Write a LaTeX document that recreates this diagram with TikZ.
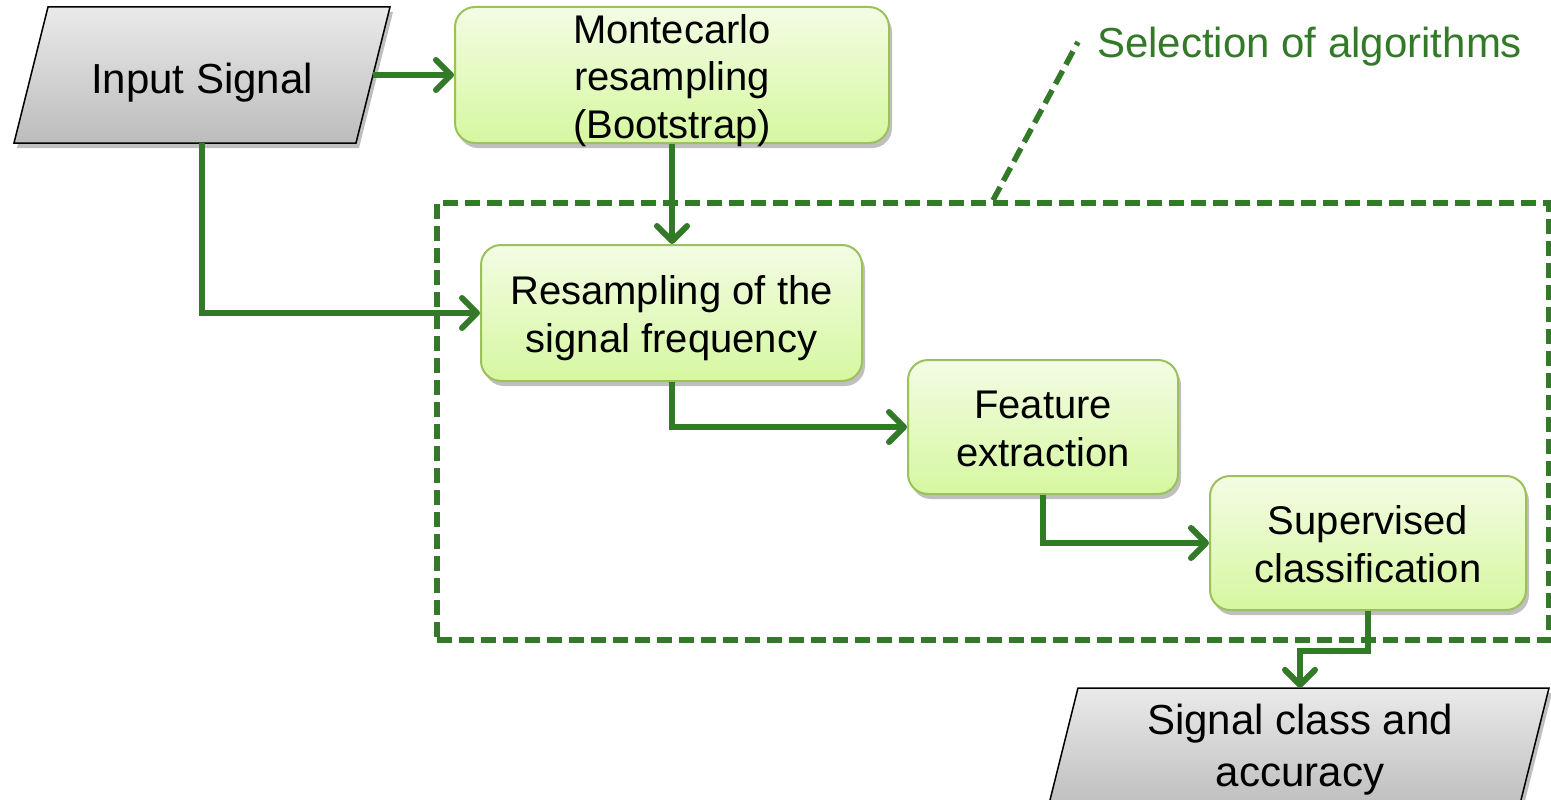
\documentclass[tikz,border=0pt]{standalone}
\usepackage{fontspec}
\setmainfont{Liberation Sans}
\usetikzlibrary{arrows.meta,shadows,calc}
\definecolor{conn}{RGB}{50,122,40}
\definecolor{boxtop}{RGB}{243,252,228}
\definecolor{boxbot}{RGB}{214,247,160}
\definecolor{boxline}{RGB}{155,192,92}
\definecolor{greytop}{RGB}{234,234,234}
\definecolor{greybot}{RGB}{188,188,188}
\begin{document}
\begin{tikzpicture}[x=1pt,y=-1pt,
  shad/.style={drop shadow={shadow xshift=3pt,shadow yshift=-5pt,opacity=0.25,fill=black}},
  procbox/.style={draw=boxline,line width=2pt,rounded corners=20pt,top color=boxtop,bottom color=boxbot,
    align=center,inner sep=0pt,font=\fontsize{40}{48}\selectfont,shad},
  twoline/.style={text height=79pt,text depth=0pt},
  threeline/.style={text height=128pt,text depth=0pt},
  ioshape/.style={draw=black,line width=1.5pt,top color=greytop,bottom color=greybot,shad},
  iotext/.style={align=center,inner sep=0pt,font=\fontsize{42}{52}\selectfont},
  conline/.style={draw=conn,line width=6pt,-{Straight Barb[length=15pt,width=30pt,round]}},
  frame/.style={draw=conn,line width=5.5pt,dash pattern=on 15pt off 7pt,inner sep=0pt},
  callout/.style={draw=conn,line width=5.5pt,dash pattern=on 15pt off 7pt},
  grplabel/.style={text=conn,font=\fontsize{42}{50}\selectfont,anchor=west,inner sep=0pt}]
\useasboundingbox (0,0) rectangle (1551,800);
\clip (0,0) rectangle (1551,800);

% input / output shapes
\path[ioshape] (48,7) -- (390,7) -- (356,143) -- (14,143) -- cycle;
\path[ioshape] (1078,688) -- (1549,688) -- (1518,812) -- (1047,812) -- cycle;
\node[iotext,minimum width=342pt,minimum height=136pt,text height=36pt,text depth=0pt] (in) at (202,75) {Input Signal};
\node[iotext,minimum width=440pt,minimum height=124pt] (out) at (1300,750) {Signal class and\\accuracy};

% frame and label
\node[frame,minimum width=1112pt,minimum height=437pt] (frame) at (993,421.5) {};
\coordinate (calltip) at (1078,42);
\draw[callout] (frame.north) -- (calltip);
\node[grplabel] (sel) at (1097,47) {Selection of algorithms};

% process boxes
\node[procbox,threeline,minimum width=434pt,minimum height=136pt] (mc) at (672,75) {Montecarlo\\resampling\\(Bootstrap)};
\node[procbox,twoline,minimum width=381pt,minimum height=136pt] (rs) at (671.5,313) {Resampling of the\\signal frequency};
\node[procbox,twoline,minimum width=270pt,minimum height=134pt] (fe) at (1043,427) {Feature\\extraction};
\node[procbox,twoline,minimum width=316pt,minimum height=134pt] (sc) at (1368,543) {Supervised\\classification};

% connectors
\draw[conline] (in.east) -- (mc.west);
\draw[conline] (mc.south) -- (mc.south |- rs.north);
\draw[conline] (in.south) |- (rs.west);
\draw[conline] (rs.south) |- (fe.west);
\draw[conline] (fe.south) |- (sc.west);
\draw[conline] (sc.south) -- ++(0,40) -| (out.north);
\end{tikzpicture}
\end{document}
